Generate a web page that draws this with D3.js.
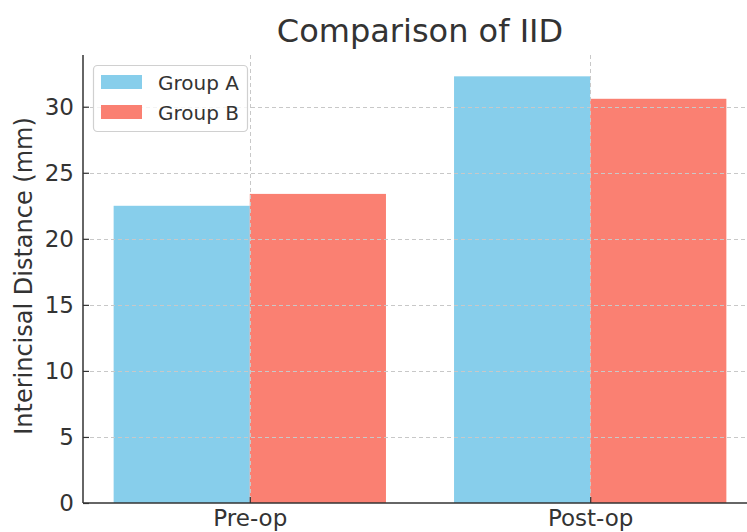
<!DOCTYPE html>
<html><head><meta charset="utf-8">
<script src="https://cdn.jsdelivr.net/npm/d3@7"></script>
<style>body{margin:0;background:#fff}svg{display:block;font-family:"DejaVu Sans",sans-serif}</style>
</head><body><svg id="c" width="747" height="532"></svg>
<script>
const categories = ["Pre-op", "Post-op"];
const groups = ["Group A", "Group B"];
const groupA = [22.5, 32.3];
const groupB = [23.4, 30.6];
const colors = ["#87CEEB", "#FA8072"];
const yTicks = [0, 5, 10, 15, 20, 25, 30];
const title = "Comparison of IID";
const yLabel = "Interincisal Distance (mm)";

(function () {
const svg = d3.select("#c");
const mL = 83, mR = 757, mT = 55, mB = 503;
const barW = 0.4;
const x = d3.scaleLinear().domain([-0.49, 1.49]).range([mL, mR]);
const ymax = Math.max(...groupA, ...groupB) * 1.05;
const y = d3.scaleLinear().domain([0, ymax]).range([mB, mT]);
const series = [groupA, groupB];

// bars
series.forEach((vals, gi) => {
  svg.append("g").selectAll("rect").data(vals).join("rect")
    .attr("x", (d, i) => x(i - barW + gi * barW))
    .attr("width", x(barW) - x(0))
    .attr("y", d => y(d))
    .attr("height", d => y(0) - y(d))
    .attr("fill", colors[gi]);
});

// grid
const grid = svg.append("g").attr("stroke", "#c8c8c8").attr("stroke-dasharray", "4,3").attr("stroke-width", 1);
yTicks.filter(t => t > 0).forEach(t => {
  grid.append("line").attr("x1", mL).attr("x2", 747).attr("y1", Math.round(y(t)) + 0.5).attr("y2", Math.round(y(t)) + 0.5);
});
categories.forEach((c, i) => {
  grid.append("line").attr("x1", Math.round(x(i)) + 0.5).attr("x2", Math.round(x(i)) + 0.5).attr("y1", mT).attr("y2", mB);
});

// axes
const yAxis = d3.axisLeft(y).tickValues(yTicks).tickSize(-6).tickPadding(9);
const gy = svg.append("g").attr("transform", `translate(${mL},0)`).call(yAxis);
gy.select(".domain").remove();
gy.selectAll("text").attr("font-size", 23).attr("fill", "#333").attr("font-family", "DejaVu Sans").attr("x", -9);
gy.selectAll("line").attr("stroke", "#333").attr("stroke-width", 1.2);
svg.append("line").attr("x1", mL).attr("x2", mL).attr("y1", mT).attr("y2", mB).attr("stroke", "#333").attr("stroke-width", 1.5);

const xAxis = d3.axisBottom(x).tickValues([0, 1]).tickFormat(i => categories[i]).tickSize(-6).tickPadding(3);
const gx = svg.append("g").attr("transform", `translate(0,${mB})`).call(xAxis);
gx.select(".domain").remove();
gx.selectAll("text").attr("font-size", 23).attr("fill", "#333").attr("font-family", "DejaVu Sans").attr("y", 7);
gx.selectAll("line").attr("stroke", "#333").attr("stroke-width", 1.2);
svg.append("line").attr("x1", mL).attr("x2", 747).attr("y1", mB).attr("y2", mB).attr("stroke", "#333").attr("stroke-width", 1.5);

// title
svg.append("text").attr("x", 420).attr("y", 42).attr("text-anchor", "middle")
  .attr("font-size", 32).attr("fill", "#333").text(title);
// y label
svg.append("text").attr("transform", `translate(32,${(mT + mB) / 2 - 3}) rotate(-90)`)
  .attr("text-anchor", "middle").attr("font-size", 24).attr("fill", "#333").text(yLabel);

// legend
const lg = svg.append("g");
lg.append("rect").attr("x", 93.5).attr("y", 65.5).attr("width", 154).attr("height", 66).attr("rx", 4)
  .attr("fill", "#fff").attr("fill-opacity", 0.8).attr("stroke", "#d0d0d0").attr("stroke-width", 1.2);
groups.forEach((g, i) => {
  lg.append("rect").attr("x", 101).attr("y", 75 + i * 30).attr("width", 41).attr("height", 14).attr("fill", colors[i]);
  lg.append("text").attr("x", 158).attr("y", 90 + i * 30).attr("font-size", 20).attr("fill", "#333").text(g);
});
})();
</script></body></html>
